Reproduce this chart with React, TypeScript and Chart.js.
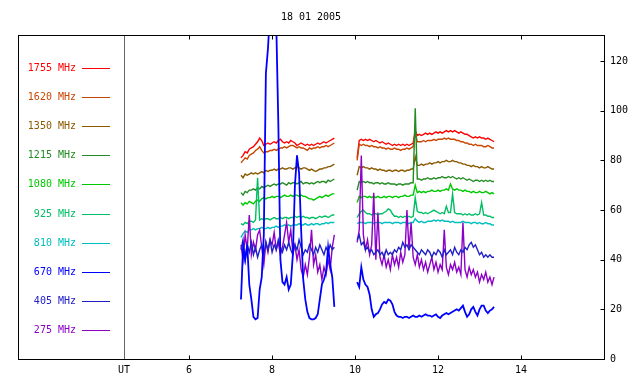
import React, { useEffect, useRef } from "react";
import { Chart, registerables } from "chart.js";

Chart.register(...registerables);

const TITLE = "18 01 2005";
const FREQ_LABELS = ["1755 MHz", "1620 MHz", "1350 MHz", "1215 MHz", "1080 MHz", "925 MHz", "810 MHz", "670 MHz", "405 MHz", "275 MHz"];
const SERIES_COLORS = ["#ff0000", "#c84600", "#8b5a00", "#228b22", "#00c800", "#00be64", "#00bebe", "#0000ff", "#2020c8", "#8c00c8"];
const DRAW_ORDER = [9, 8, 7, 6, 5, 4, 3, 0, 1, 2];

const X_MIN = 1.875;
const X_MAX = 16;
const UT_POS = 4.43;
const X_TICKS = [6, 8, 10, 12, 14];
const Y_MIN = 0;
const Y_MAX = 130.5;
const Y_TICKS = [0, 20, 40, 60, 80, 100, 120];

const SEG1_START = 7.25;
const SEG2_START = 10.05;
const STEP = 0.05;
const GAP_AT = 9.75;

// segment 1: 7.25 .. 9.50 UT (46 samples), segment 2: 10.05 .. 13.35 UT (67 samples)
const f1755a = [81, 82, 83.5, 83, 84.5, 85, 85.5, 86.5, 87.5, 89, 88, 86, 86.5, 87, 86.5, 87, 87.5, 87, 88, 88.5, 87.5, 87, 87.5, 87, 88, 87.5, 87, 86, 86.5, 87, 86.5, 86, 86.5, 86, 86.5, 86, 86.5, 87, 86.5, 87, 87.5, 87, 87.5, 88, 88.5, 89];
const f1755b = [81, 88, 88.5, 88, 88.5, 88, 88.5, 88, 87.5, 88, 87.5, 87, 87.5, 87, 86.5, 87, 86.5, 86, 86.5, 86, 86.5, 86, 86.5, 86, 86.5, 86, 86.5, 87, 92, 90, 90.5, 90, 90.5, 91, 90.5, 91, 90.5, 91, 91.5, 91, 91.5, 91, 91.5, 92, 91.5, 92, 91.5, 92, 91.5, 91, 91.5, 91, 90.5, 90.5, 90, 89.5, 89, 89.5, 89, 89.5, 89, 89, 88.5, 89, 88.5, 88, 87.5];

const f1620a = [79, 80, 81, 80.5, 82, 82.5, 83, 84, 84.5, 85.5, 84, 83, 83.5, 83.5, 84, 84, 84.5, 84, 84.5, 85, 85, 85.5, 85, 85.5, 86, 86, 85.5, 85, 85.5, 85, 85, 84.5, 84, 85, 84.5, 85, 85, 85.5, 85, 85.5, 85.5, 86, 85.5, 86, 86.5, 87];
const f1620b = [80, 86.5, 86, 86.5, 86, 86, 85.5, 86, 85.5, 85.5, 85, 85.5, 85, 85, 84.5, 85, 84.5, 84.5, 85, 84.5, 84.5, 84, 84.5, 84.5, 85, 84.5, 85, 85.5, 91, 87.5, 87.5, 87.5, 88, 87.5, 88, 88, 88, 88.5, 88, 88.5, 88.5, 88.5, 89, 88.5, 89, 88.5, 88.5, 88.5, 88, 88, 87.5, 87.5, 87, 87, 86.5, 86.5, 86, 86.5, 86, 86, 86, 85.5, 85.5, 86, 85.5, 85, 85];

const f1350a = [74, 73, 74.5, 74, 74.5, 75, 74.5, 75, 74.5, 75, 75.5, 75, 76, 75.5, 76, 76, 76.5, 76, 76.5, 76.5, 77, 76.5, 76.5, 77, 77, 76.5, 77, 77.5, 77, 76.5, 77, 77, 76.5, 76, 76.5, 76, 75.5, 76, 76.5, 76.5, 77, 77, 77.5, 77.5, 78, 78.5];
const f1350b = [74, 77.5, 77, 77.5, 77, 77, 76.5, 77, 76.5, 76.5, 76, 76.5, 76, 76, 75.5, 76, 76, 75.5, 76, 76, 75.5, 76, 76, 75.5, 76, 76, 76.5, 76.5, 81.5, 78, 78, 78.5, 78, 78.5, 78.5, 79, 78.5, 79, 79, 79.5, 79, 79.5, 79.5, 80, 79.5, 79.5, 80, 79.5, 79.5, 79, 79, 78.5, 78.5, 78, 78, 77.5, 78, 77.5, 77.5, 77, 77.5, 77, 77, 77.5, 77, 76.5, 76.5];

const f1215a = [67, 66, 67.5, 67, 68, 68, 68.5, 68, 69, 68.5, 69.5, 69, 69.5, 70, 69.5, 70, 70.5, 70, 70.5, 70.5, 71, 70.5, 70, 71, 70.5, 71, 71, 70.5, 71, 71.5, 70.5, 71, 71, 70.5, 71, 70.5, 71, 71.5, 71, 71.5, 71.5, 71, 72, 71.5, 72, 72.5];
const f1215b = [68, 71.5, 71, 71.5, 71, 71.5, 71, 71, 70.5, 71, 71, 70.5, 71, 70.5, 70.5, 71, 70.5, 70.5, 70.5, 70, 70.5, 70.5, 70, 70.5, 70.5, 70.5, 71, 71, 101, 72.5, 72.5, 72, 72.5, 72.5, 73, 72.5, 72.5, 73, 72.5, 73, 73, 73.5, 73, 73, 73.5, 73, 73.5, 73, 72.5, 73, 72.5, 73, 72.5, 72, 72.5, 72, 71.5, 72, 72, 71.5, 72, 71.5, 72, 71.5, 72, 71.5, 71.5];

const f1080a = [63, 62, 63, 62.5, 63.5, 63, 62.5, 63.5, 64, 63.5, 64.5, 65, 64.5, 65, 65, 65.5, 65, 65.5, 65.5, 65, 65.5, 66, 65.5, 65.5, 66, 65.5, 66, 66, 65.5, 66, 65.5, 65.5, 65, 64.5, 64.5, 64, 64.5, 65, 65.5, 65, 65.5, 66, 65.5, 66, 66.5, 66.5];
const f1080b = [63, 65.5, 65, 65.5, 65.5, 65, 65.5, 65, 65.5, 65, 65.5, 65, 65, 65.5, 65, 65.5, 65.5, 65, 65.5, 65.5, 65, 65.5, 65.5, 66, 65.5, 65.5, 66, 66, 70, 67, 67.5, 67, 67.5, 67, 67.5, 67.5, 68, 67.5, 67.5, 68, 67.5, 68, 68, 68.5, 68, 70.5, 68.5, 68, 68.5, 68, 68, 67.5, 68, 67.5, 67.5, 67, 67.5, 67, 67, 67.5, 67, 67, 67.5, 67, 66.5, 67, 66.5];

const f925a = [54.5, 54, 55, 54.5, 55.5, 55.5, 55, 56, 73, 56, 56.5, 56, 56.5, 56.5, 56, 56.5, 57, 56.5, 56.5, 57, 56.5, 57, 57, 56.5, 57, 57, 57.5, 57, 57.5, 57, 57.5, 57, 57, 56.5, 57, 57, 56.5, 57, 57.5, 57, 57.5, 57.5, 57, 57.5, 58, 58];
const f925b = [57, 58.5, 59.5, 60, 59, 58.5, 58.5, 58, 58.5, 58.5, 58, 58.5, 58.5, 59, 59.5, 60.5, 60, 58.5, 57.5, 57.5, 57, 57.5, 57, 57.5, 57, 57.5, 57, 57.5, 65, 59.5, 59, 59, 58.5, 59, 58.5, 59, 59.5, 60, 59.5, 59, 58.5, 59, 58.5, 61.5, 59, 59, 66.5, 59, 58.5, 58.5, 58.5, 58, 58.5, 58, 58.5, 58, 58, 58.5, 58, 58.5, 63, 58, 58, 57.5, 57.5, 57, 57];

const f810a = [49, 50.5, 51.5, 51, 52, 52, 52.5, 52, 52.5, 52.5, 53, 52.5, 52.5, 53, 52.5, 53, 53, 53.5, 53, 53.5, 53.5, 54, 53.5, 54, 53.5, 54, 54, 54, 54.5, 54, 54, 54.5, 54, 54, 54.5, 54, 54.5, 54.5, 54, 54.5, 54.5, 55, 54.5, 55, 55, 55];
const f810b = [54.5, 55, 55, 55, 54.5, 55, 55, 55, 54.5, 55, 55, 55, 54.5, 55, 55, 55, 55, 54.5, 55, 55, 55, 54.5, 55, 55, 55, 54.5, 55, 55, 56.5, 55.5, 55, 55.5, 55, 55, 55.5, 55.5, 55.5, 56, 55.5, 56, 55.5, 56, 55.5, 55.5, 55.5, 55, 55.5, 55, 55, 55, 55, 55.5, 55, 55, 55, 54.5, 55, 55, 54.5, 55, 54.5, 54.5, 55, 54.5, 54.5, 54, 54];

const f670a = [24, 45, 40, 46, 30, 24, 17, 16, 16.5, 28, 33, 50, 115, 125, 140, 145, 145, 135, 95, 40, 31, 30, 33, 28, 30, 42, 70, 82, 75, 52, 32, 24, 19, 16.5, 16, 16, 16.5, 18, 24, 30, 32, 35, 45, 38, 33, 21];
const f670b = [31, 29, 37, 32, 30, 29, 26, 20, 17, 18, 18.5, 20, 22, 23, 22.5, 24, 23.5, 22, 19, 17.5, 17, 17, 16.5, 17, 17, 16.5, 17, 17.5, 17, 17, 17.5, 17, 17.5, 18, 17.5, 17.5, 17, 17.5, 18, 17, 16.5, 17.5, 18, 18.5, 18, 18.5, 19, 19.5, 20, 19.5, 20.5, 21.5, 19, 17, 18, 20, 21, 19, 17.5, 20, 21.5, 21.5, 19.5, 18.5, 19.5, 20, 21];

const f405a = [44, 48, 40, 46, 43, 47, 42, 45, 41, 44, 46, 42, 47, 44, 48, 43, 46, 44, 48, 45, 43, 46, 44, 47, 44, 42, 46, 44, 48, 45, 42, 44, 43, 46, 44, 42, 45, 43, 46, 44, 42, 45, 43, 46, 44, 45];
const f405b = [48, 50, 46, 47, 44, 45, 43, 44, 42, 43, 44, 42, 43, 41, 44, 42, 43, 42, 44, 43, 45, 44, 47, 45, 46, 44, 46, 45, 44, 43, 42, 44, 43, 42, 44, 43, 41, 43, 42, 44, 43, 41, 44, 42, 43, 44, 42, 45, 43, 42, 44, 43, 45, 44, 46, 47, 45, 46, 44, 42, 43, 41, 42, 41, 42, 41, 41];

const f275a = [46, 40, 50, 44, 58, 42, 47, 44, 50, 52, 45, 38, 47, 43, 48, 46, 51, 44, 47, 42, 45, 50, 55, 47, 52, 43, 46, 40, 44, 36, 33, 38, 34, 41, 52, 38, 42, 35, 38, 32, 37, 34, 40, 36, 45, 50];
const f275b = [47, 52, 82, 50, 44, 48, 42, 46, 67, 40, 59, 41, 38, 42, 37, 40, 36, 42, 38, 41, 37, 43, 39, 42, 60, 44, 55, 41, 38, 42, 37, 40, 36, 39, 35, 38, 41, 36, 39, 35, 38, 36, 52, 37, 34, 38, 36, 39, 35, 37, 34, 55, 36, 33, 37, 34, 36, 33, 35, 31, 34, 32, 35, 31, 33, 30, 33];

const SERIES_A = [f1755a, f1620a, f1350a, f1215a, f1080a, f925a, f810a, f670a, f405a, f275a];
const SERIES_B = [f1755b, f1620b, f1350b, f1215b, f1080b, f925b, f810b, f670b, f405b, f275b];

function buildPoints(a: number[], b: number[]) {
  const pts: { x: number; y: number | null }[] = [];
  a.forEach((v, i) => pts.push({ x: Math.round((SEG1_START + i * STEP) * 100) / 100, y: v }));
  pts.push({ x: GAP_AT, y: null });
  b.forEach((v, i) => pts.push({ x: Math.round((SEG2_START + i * STEP) * 100) / 100, y: v }));
  return pts;
}

const FONT = '"DejaVu Sans Mono", "Liberation Mono", monospace';

const framePlugin = {
  id: "framePlugin",
  beforeDatasetsDraw(chart: any) {
    const { ctx, chartArea, scales } = chart;
    const xs = scales.x;
    const ux = Math.round(xs.getPixelForValue(UT_POS)) + 0.5;
    ctx.save();
    ctx.strokeStyle = "#666666";
    ctx.lineWidth = 1;
    ctx.beginPath();
    ctx.moveTo(ux, chartArea.top);
    ctx.lineTo(ux, chartArea.bottom);
    ctx.stroke();
    // legend
    const ly0 = chartArea.top + 32.5;
    const dy = 29.2;
    ctx.font = "10px " + FONT;
    ctx.textAlign = "right";
    ctx.textBaseline = "middle";
    FREQ_LABELS.forEach((lab, i) => {
      const y = Math.round(ly0 + i * dy);
      ctx.fillStyle = SERIES_COLORS[i];
      ctx.fillText(lab, chartArea.left + 58, y);
      ctx.strokeStyle = SERIES_COLORS[i];
      ctx.beginPath();
      ctx.moveTo(chartArea.left + 64, y + 0.5);
      ctx.lineTo(chartArea.left + 92, y + 0.5);
      ctx.stroke();
    });
    ctx.restore();
  },
  afterDraw(chart: any) {
    const { ctx, chartArea, scales } = chart;
    const l = Math.round(chartArea.left) + 0.5;
    const r = Math.round(chartArea.right) + 0.5;
    const t = Math.round(chartArea.top) + 0.5;
    const b = Math.round(chartArea.bottom) + 0.5;
    ctx.save();
    ctx.strokeStyle = "#000";
    ctx.lineWidth = 1;
    ctx.strokeRect(l, t, r - l, b - t);
    ctx.beginPath();
    X_TICKS.forEach((v) => {
      const px = Math.round(scales.x.getPixelForValue(v)) + 0.5;
      ctx.moveTo(px, b);
      ctx.lineTo(px, b - 4);
      ctx.moveTo(px, t);
      ctx.lineTo(px, t + 4);
    });
    Y_TICKS.forEach((v) => {
      const py = Math.round(scales.y.getPixelForValue(v)) + 0.5;
      ctx.moveTo(r, py);
      ctx.lineTo(r - 4, py);
    });
    ctx.stroke();
    ctx.restore();
  },
};

export default function App() {
  const ref = useRef<HTMLCanvasElement | null>(null);
  useEffect(() => {
    document.body.style.margin = "0";
    const canvas = ref.current;
    if (!canvas) return;
    const datasets = FREQ_LABELS.map((lab, i) => ({
      label: lab,
      data: buildPoints(SERIES_A[i], SERIES_B[i]),
      borderColor: SERIES_COLORS[i],
      backgroundColor: SERIES_COLORS[i],
      borderWidth: i === 7 ? 1.8 : 1.4,
      pointRadius: 0,
      tension: 0,
      spanGaps: false,
      order: DRAW_ORDER[i],
    }));
    const chart = new Chart(canvas, {
      type: "line",
      data: { datasets },
      plugins: [framePlugin],
      options: {
        responsive: false,
        animation: false,
        devicePixelRatio: 1,
        layout: { padding: { left: 18, right: 0, top: 0, bottom: 0 } },
        plugins: {
          legend: { display: false },
          tooltip: { enabled: false },
          title: {
            display: true,
            text: TITLE,
            fullSize: false,
            color: "#000",
            font: { family: FONT, size: 10, weight: "normal", lineHeight: 1.2 },
            padding: { top: 11, bottom: 12 },
          },
        },
        scales: {
          x: {
            type: "linear",
            min: X_MIN,
            max: X_MAX,
            afterBuildTicks: (s: any) => {
              s.ticks = [{ value: UT_POS }, ...X_TICKS.map((v) => ({ value: v }))];
            },
            afterFit: (s: any) => {
              s.height = 25;
            },
            grid: { display: false, drawTicks: false },
            border: { display: false },
            ticks: {
              autoSkip: false,
              maxRotation: 0,
              padding: 5,
              color: "#000",
              font: { family: FONT, size: 10 },
              callback: (v: any) => (v === UT_POS ? "UT" : String(v)),
            },
          },
          y: {
            type: "linear",
            position: "right",
            min: Y_MIN,
            max: Y_MAX,
            afterBuildTicks: (s: any) => {
              s.ticks = Y_TICKS.map((v) => ({ value: v }));
            },
            afterFit: (s: any) => {
              s.width = 36;
            },
            grid: { display: false, drawTicks: false },
            border: { display: false },
            ticks: {
              padding: 6,
              color: "#000",
              font: { family: FONT, size: 10 },
            },
          },
        },
      },
    } as any);
    return () => chart.destroy();
  }, []);
  return (
    <div style={{ width: 640, height: 384 }}>
      <canvas ref={ref} width={640} height={384} />
    </div>
  );
}
